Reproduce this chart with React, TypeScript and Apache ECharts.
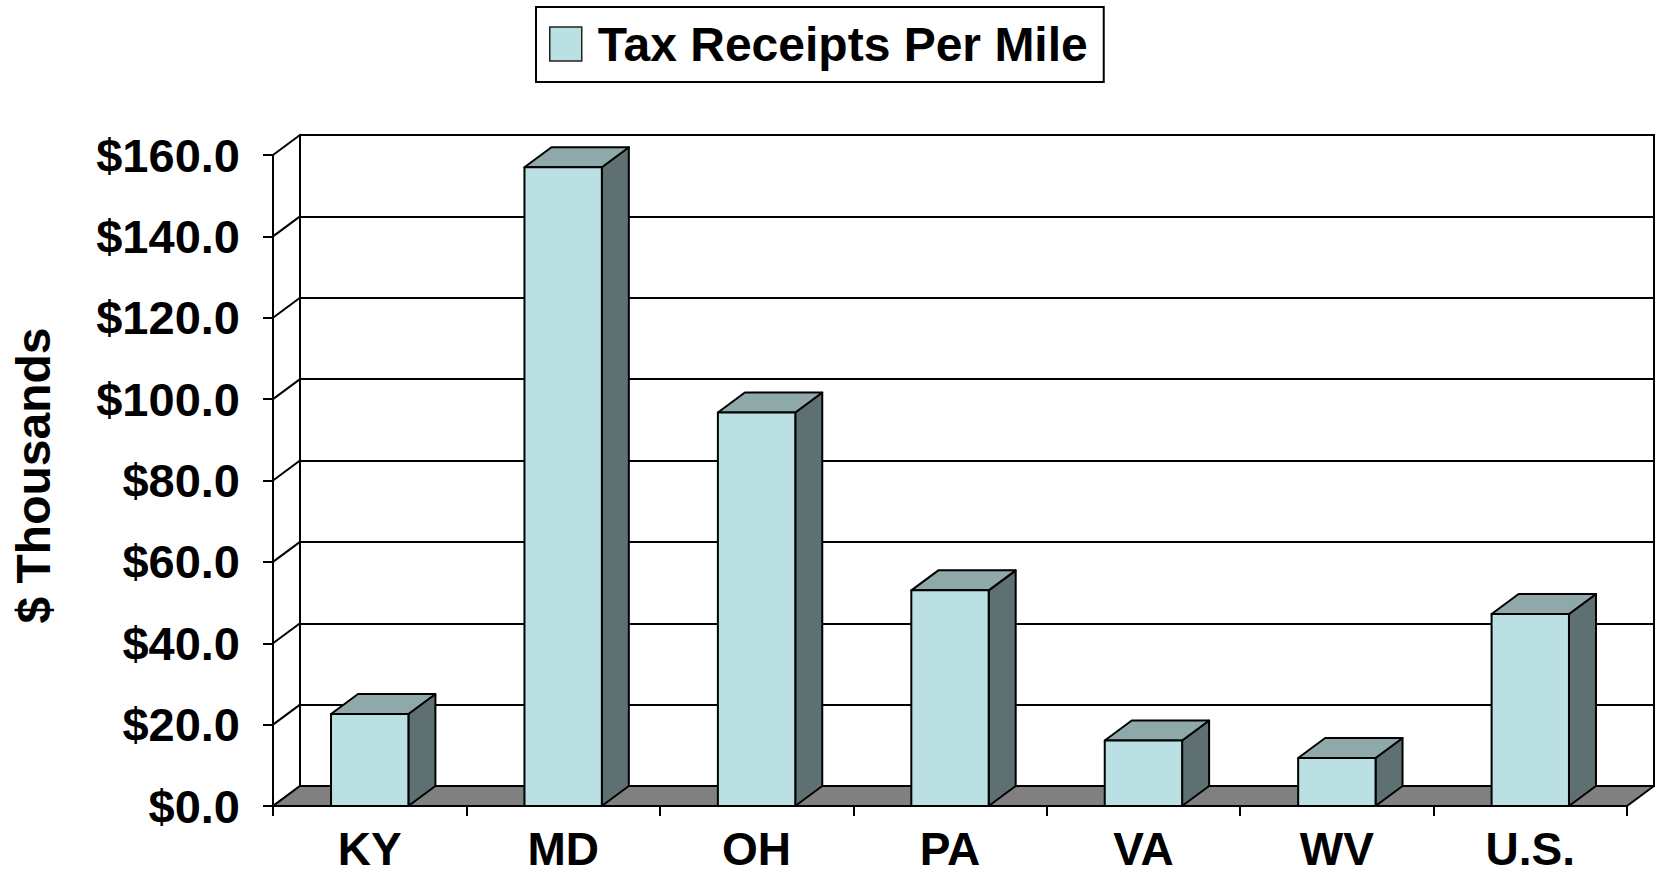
import React, { useEffect, useRef } from "react";
import * as echarts from "echarts";

const categories = ["KY", "MD", "OH", "PA", "VA", "WV", "U.S."];
const receiptsPerMile = [22.6, 157.0, 96.7, 53.0, 16.1, 11.8, 47.2];
const yTickValues = [0, 20, 40, 60, 80, 100, 120, 140, 160];
const seriesName = "Tax Receipts Per Mile";
const yAxisTitle = "$ Thousands";

const FONT = "'Liberation Sans', Arial, Helvetica, sans-serif";
const FRONT = "#BBE0E3";
const TOP = "#8FA8AA";
const SIDE = "#5E7072";
const FLOOR = "#808080";
const DX = 27;
const DY = -20;
const LW = 2;

export default function App() {
  const ref = useRef<HTMLDivElement>(null);

  useEffect(() => {
    if (!ref.current) return;
    const chart = echarts.init(ref.current, null, { renderer: "svg" });

    const option: any = {
      animation: false,
      backgroundColor: "#ffffff",
      legend: {
        data: [seriesName],
        left: 536,
        top: 7,
        padding: [13, 16, 14, 13],
        itemWidth: 32,
        itemHeight: 34,
        icon: "rect",
        borderColor: "#000",
        borderWidth: 2,
        itemStyle: { color: FRONT, borderColor: "#222", borderWidth: 1.5 },
        textStyle: {
          fontFamily: FONT,
          fontSize: 48,
          fontWeight: "bold",
          color: "#000",
          padding: [0, 0, 0, 11],
        },
      },
      grid: [
        { left: 273, top: 155, right: 33, bottom: 71, containLabel: false },
        {
          left: 300,
          top: 135,
          right: 6,
          bottom: 91,
          show: true,
          borderColor: "#000",
          borderWidth: LW,
          backgroundColor: "transparent",
        },
      ],
      xAxis: [
        {
          type: "category",
          gridIndex: 0,
          data: categories,
          boundaryGap: true,
          axisLine: { show: true, lineStyle: { color: "#000", width: LW } },
          axisTick: { show: true, length: 10, inside: false, lineStyle: { color: "#000", width: LW } },
          axisLabel: {
            fontFamily: FONT,
            fontSize: 46,
            lineHeight: 40,
            fontWeight: "bold",
            color: "#000",
            margin: 23,
          },
          splitLine: { show: false },
        },
        {
          type: "category",
          gridIndex: 1,
          data: categories,
          show: false,
        },
      ],
      yAxis: [
        {
          type: "value",
          gridIndex: 0,
          min: 0,
          max: 160,
          interval: 20,
          name: yAxisTitle,
          nameLocation: "middle",
          nameGap: 216,
          nameRotate: 90,
          nameTextStyle: {
            fontFamily: FONT,
            fontSize: 48,
            fontWeight: "bold",
            color: "#000",
            padding: [0, 0, 0, 10],
          },
          axisLine: { show: true, lineStyle: { color: "#000", width: LW } },
          axisTick: { show: true, length: 10, inside: false, lineStyle: { color: "#000", width: LW } },
          axisLabel: {
            fontFamily: FONT,
            fontSize: 47,
            fontWeight: "bold",
            color: "#000",
            margin: 33,
            formatter: (v: number) => "$" + v.toFixed(1),
          },
          splitLine: { show: false },
        },
        {
          type: "value",
          gridIndex: 1,
          min: 0,
          max: 160,
          interval: 20,
          axisLine: { show: false },
          axisTick: { show: false },
          axisLabel: { show: false },
          splitLine: { show: true, lineStyle: { color: "#000", width: LW } },
        },
      ],
      series: [
        {
          type: "custom",
          name: "sideWall",
          xAxisIndex: 0,
          yAxisIndex: 0,
          z: 1,
          silent: true,
          data: yTickValues.map((v) => [0, v]),
          renderItem: (params: any, api: any) => {
            const cs = params.coordSys;
            const y = api.coord([0, api.value(1)])[1];
            return {
              type: "line",
              shape: { x1: cs.x, y1: y, x2: cs.x + DX, y2: y + DY },
              style: { stroke: "#000", lineWidth: LW },
            };
          },
        },
        {
          type: "custom",
          name: "floor",
          xAxisIndex: 0,
          yAxisIndex: 0,
          z: 2,
          silent: true,
          data: [[0, 0]],
          renderItem: (params: any, api: any) => {
            const cs = params.coordSys;
            const yb = api.coord([0, 0])[1];
            const x0 = cs.x;
            const x1 = cs.x + cs.width;
            return {
              type: "polygon",
              shape: {
                points: [
                  [x0, yb],
                  [x1, yb],
                  [x1 + DX, yb + DY],
                  [x0 + DX, yb + DY],
                ],
              },
              style: { fill: FLOOR, stroke: "#000", lineWidth: LW, lineJoin: "round" },
            };
          },
        },
        {
          type: "custom",
          name: seriesName,
          xAxisIndex: 0,
          yAxisIndex: 0,
          z: 3,
          itemStyle: { color: FRONT, borderColor: "#000" },
          data: receiptsPerMile.map((v, i) => [i, v]),
          renderItem: (params: any, api: any) => {
            const i = api.value(0);
            const v = api.value(1);
            const base = api.coord([i, 0]);
            const top = api.coord([i, v]);
            const bw = api.size([1, 0])[0] * 0.4;
            const x0 = base[0] - bw / 2;
            const x1 = base[0] + bw / 2;
            const yb = base[1];
            const yt = top[1];
            const st = { stroke: "#000", lineWidth: LW, lineJoin: "round" };
            return {
              type: "group",
              children: [
                {
                  type: "polygon",
                  shape: {
                    points: [
                      [x1, yt],
                      [x1 + DX, yt + DY],
                      [x1 + DX, yb + DY],
                      [x1, yb],
                    ],
                  },
                  style: { fill: SIDE, ...st },
                },
                {
                  type: "polygon",
                  shape: {
                    points: [
                      [x0, yt],
                      [x1, yt],
                      [x1 + DX, yt + DY],
                      [x0 + DX, yt + DY],
                    ],
                  },
                  style: { fill: TOP, ...st },
                },
                {
                  type: "rect",
                  shape: { x: x0, y: yt, width: bw, height: yb - yt },
                  style: { fill: FRONT, ...st },
                },
              ],
            };
          },
        },
      ],
    };

    chart.setOption(option);
    return () => chart.dispose();
  }, []);

  return (
    <div
      ref={ref}
      style={{ position: "fixed", left: 0, top: 0, width: 1660, height: 877, background: "#fff" }}
    />
  );
}
